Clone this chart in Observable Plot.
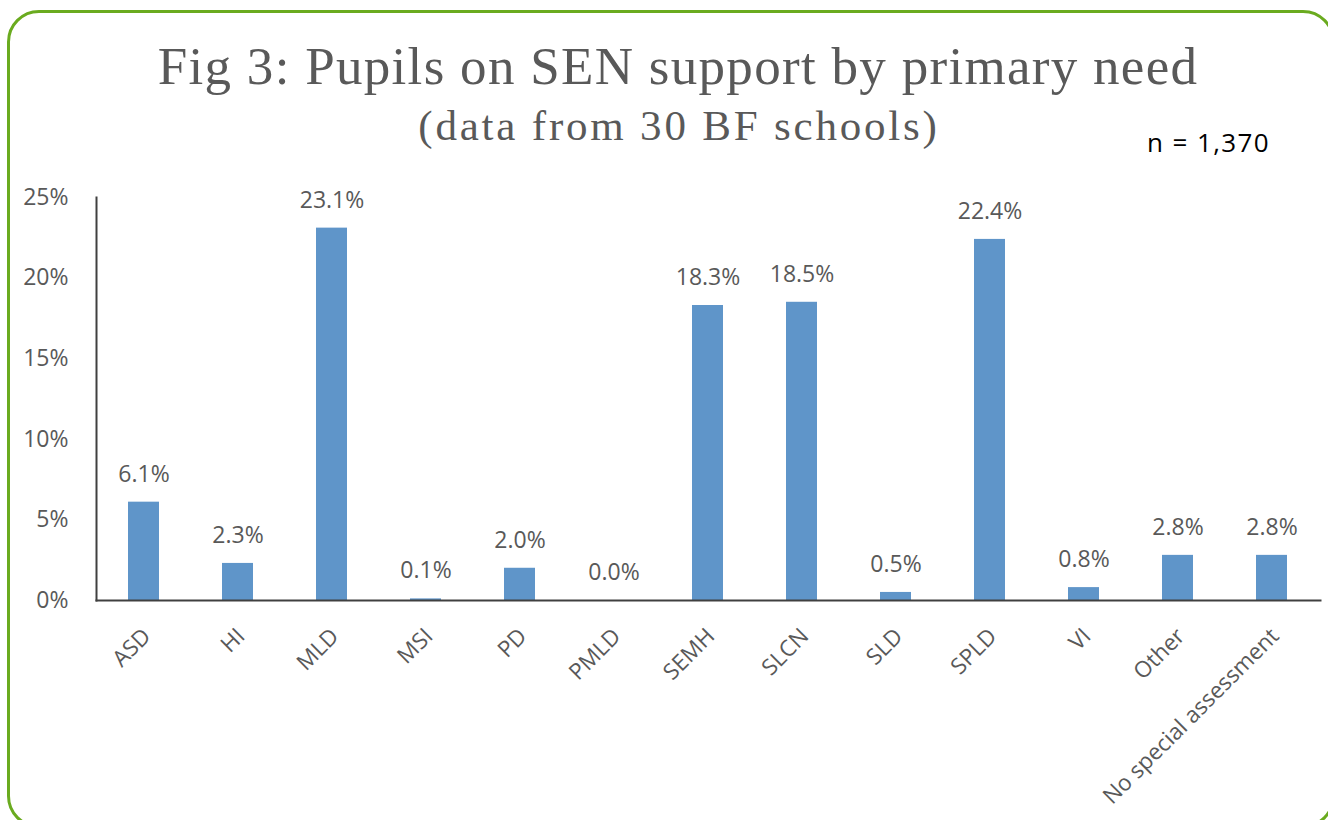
<!DOCTYPE html>
<html>
<head>
<meta charset="utf-8">
<script src="https://cdn.jsdelivr.net/npm/d3@7"></script>
<script src="https://cdn.jsdelivr.net/npm/@observablehq/plot@0.6"></script>
<style>
  html, body { margin: 0; padding: 0; background: #fff; }
  #wrap { position: relative; width: 1328px; height: 820px; overflow: hidden; }
  #box { position: absolute; left: 7px; top: 10px; width: 1322px; height: 812px; border: 3px solid #6aab1f; border-radius: 32px; }
  #title { position: absolute; left: 0; width: 1356px; top: 40px; text-align: center; font-family: "Liberation Serif", serif; font-size: 53px; letter-spacing: 1.3px; color: #595959; line-height: 1; white-space: nowrap; }
  #subtitle { position: absolute; left: 0; width: 1358px; top: 104px; text-align: center; font-family: "Liberation Serif", serif; font-size: 43px; letter-spacing: 2.8px; color: #595959; line-height: 1; white-space: nowrap; }
  #n { position: absolute; left: 1147px; top: 129px; font-family: "Open Sans", sans-serif; font-size: 26px; letter-spacing: 1.4px; color: #000; line-height: 1; white-space: nowrap; }
  #chart { position: absolute; left: 0; top: 0; }
</style>
</head>
<body>
<div id="wrap">
  <div id="box"></div>
  <div id="chart"></div>
  <div id="title">Fig 3: Pupils on SEN support by primary need</div>
  <div id="subtitle">(data from 30 BF schools)</div>
  <div id="n">n = 1,370</div>
</div>
<script>
const categories = ["ASD", "HI", "MLD", "MSI", "PD", "PMLD", "SEMH", "SLCN", "SLD", "SPLD", "VI", "Other", "No special assessment"];
const values = [6.1, 2.3, 23.1, 0.1, 2.0, 0.0, 18.3, 18.5, 0.5, 22.4, 0.8, 2.8, 2.8];
const yTicks = [0, 5, 10, 15, 20, 25];

const data = categories.map((c, i) => ({category: c, value: values[i]}));

const font = "'Open Sans', sans-serif";
const chart = Plot.plot({
  width: 1328,
  height: 820,
  marginLeft: 96,
  marginRight: 8,
  marginTop: 197,
  marginBottom: 220,
  style: {fontFamily: font, fontSize: "23px", color: "#595959", background: "transparent", overflow: "visible"},
  x: {domain: categories, paddingInner: 0.67, paddingOuter: 0.335, label: null},
  y: {domain: [0, 25], label: null},
  marks: [
    Plot.barY(data, {x: "category", y: "value", fill: "#5f95c9"}),
    Plot.frame({anchor: "left", stroke: "#404040", strokeWidth: 2}),
    Plot.frame({anchor: "bottom", stroke: "#404040", strokeWidth: 2}),
    Plot.text(data, {x: "category", y: "value", text: d => d.value.toFixed(1) + "%", dy: -28, fill: "#595959", fontSize: 23, style: {letterSpacing: "0.4px"}}),
    Plot.axisY({ticks: yTicks, tickFormat: d => d + "%", tickSize: 0, tickPadding: 28, fontSize: 23, fill: "#595959", label: null}),
    Plot.axisX({tickRotate: -45, tickSize: 0, tickPadding: 32, dx: 3, fontSize: 22.5, fill: "#595959", label: null})
  ]
});
document.getElementById("chart").appendChild(chart);
</script>
</body>
</html>
